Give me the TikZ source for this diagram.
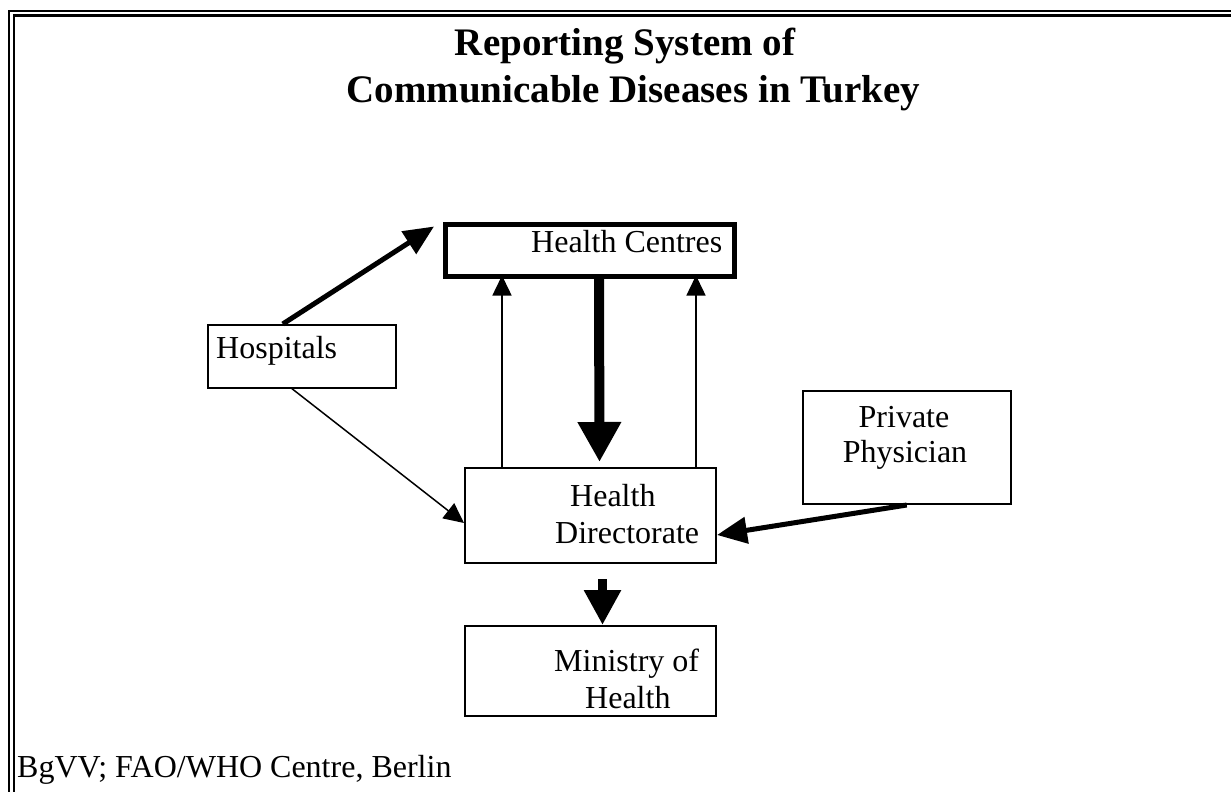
\documentclass[tikz,border=0pt]{standalone}
\usepackage{fontspec}
\setmainfont{Liberation Serif}
\usetikzlibrary{arrows.meta,calc}
\begin{document}
\begin{tikzpicture}[x=1pt,y=-1pt,
  box/.style={draw,rectangle,line width=2pt,inner sep=0pt},
  txt/.style={inner sep=0pt,font=\fontsize{32}{37}\selectfont},
  ttl/.style={inner sep=0pt,font=\fontsize{39}{46}\selectfont\bfseries},
  frameline/.style={line width=2.5pt},
  thinarrow/.style={line width=1.5pt,-{Triangle[length=20pt,width=19pt]}},
  thickarrow/.style={line width=5pt,-{Triangle[length=30pt,width=26pt]}},
  fatarrow/.style={line width=10pt,-{Triangle[length=40pt,width=41pt]}},
  stubarrow/.style={line width=9pt,-{Triangle[length=35pt,width=35pt]}}]
\useasboundingbox (0,0) rectangle (1231,792);
% double frame
\draw[frameline] (9,792) -- (9,11) -- (1231,11);
\draw[frameline] (14,792) -- (14,15.5) -- (1231,15.5);
% title
\node[ttl,anchor=base] (t1) at (625,56) {Reporting System of};
\node[ttl,anchor=base] (t2) at (633.5,102) {Communicable Diseases in Turkey};
% boxes
\node[box,line width=5pt,minimum width=289pt,minimum height=52pt] (hc) at (590,250) {};
\node[box,minimum width=187.5pt,minimum height=62.5pt] (hos) at (301.75,356.25) {};
\node[box,minimum width=251pt,minimum height=95pt] (dir) at (590.5,515.5) {};
\node[box,minimum width=207.5pt,minimum height=113pt] (pp) at (906.75,447.5) {};
\node[box,minimum width=251pt,minimum height=90pt] (min) at (590.5,671) {};
% texts
\node[txt,anchor=base west] (hctext) at (531,252) {Health Centres};
\node[txt,anchor=base west] (hostext) at (216,358) {Hospitals};
\node[txt,anchor=base west] (dirtext1) at (570,506) {Health};
\node[txt,anchor=base west] (dirtext2) at (555,543) {Directorate};
\node[txt,anchor=base] (pptext1) at (904,427) {Private};
\node[txt,anchor=base] (pptext2) at (905,462) {Physician};
\node[txt,anchor=base west] (mintext1) at (554,671) {Ministry of};
\node[txt,anchor=base west] (mintext2) at (585,708) {Health};
\node[txt,anchor=base west] (foot) at (17,777) {BgVV; FAO/WHO Centre, Berlin};
% connectors
\draw[thickarrow] ([xshift=-19pt]hos.north) -- ([xshift=-9pt,yshift=-5pt]hc.north west);
\draw[fatarrow] ([xshift=9pt,yshift=2pt]hc.south) -- ([xshift=9pt,yshift=5pt]dir.north);
\draw[thinarrow] ([xshift=38pt]dir.north west) -- ([xshift=38pt,yshift=3pt]dir.north west |- hc.south);
\draw[thinarrow] ([xshift=-21pt]dir.north east) -- ([xshift=-21pt,yshift=3pt]dir.north east |- hc.south);
\draw[thinarrow] ([xshift=-10pt]hos.south) -- ([yshift=-7.5pt]dir.west);
\draw[thickarrow] (pp.south) -- ([yshift=-19.5pt]dir.east);
\draw[stubarrow] ([xshift=12pt,yshift=-15pt]dir.south) -- ([xshift=12pt]min.north);
\end{tikzpicture}
\end{document}
